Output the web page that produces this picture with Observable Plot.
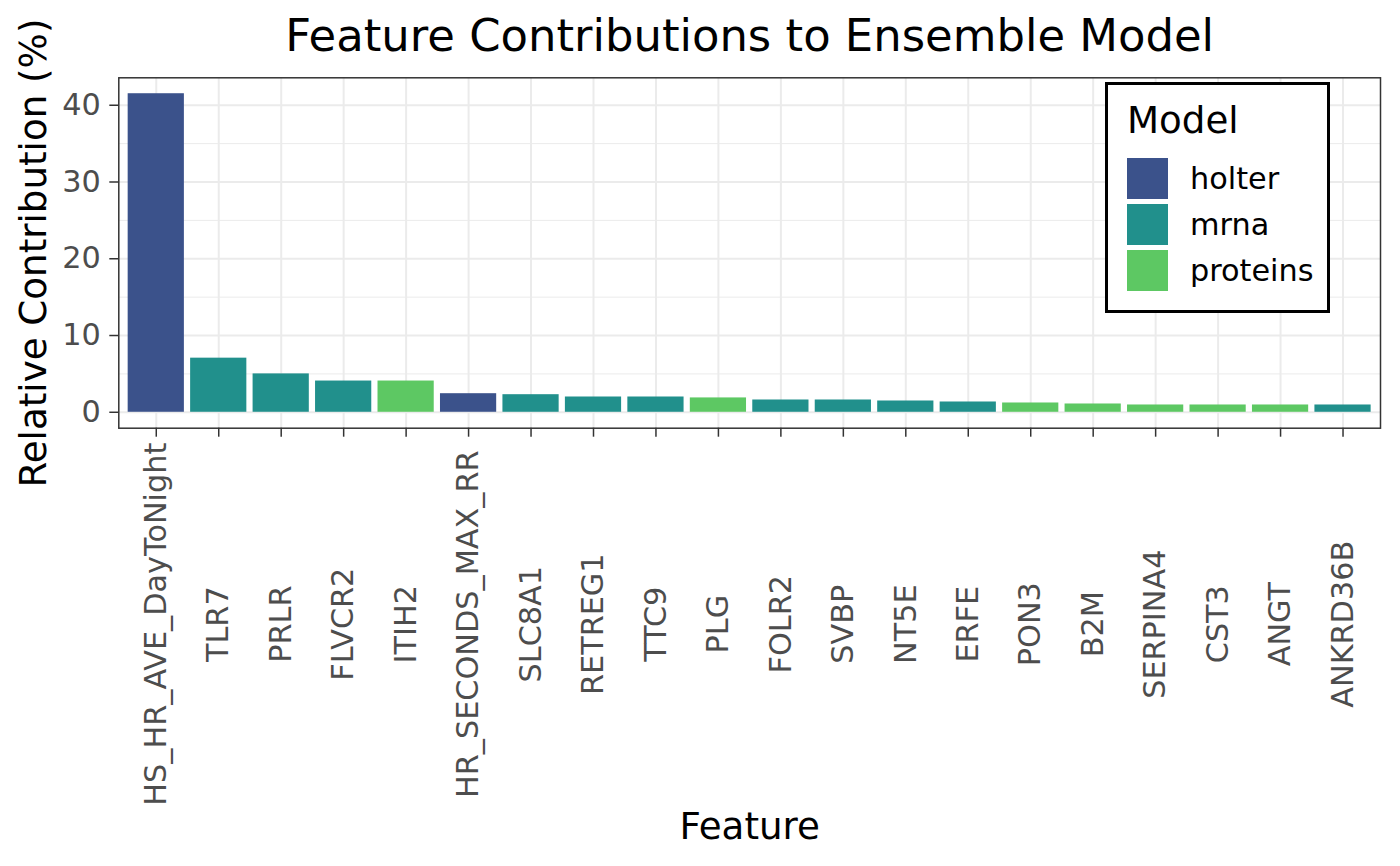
<!DOCTYPE html>
<html>
<head>
<meta charset="utf-8">
<script src="https://cdn.jsdelivr.net/npm/d3@7"></script>
<script src="https://cdn.jsdelivr.net/npm/@observablehq/plot@0.6"></script>
<style>
  html, body { margin: 0; padding: 0; background: #fff; }
  #wrap { position: relative; width: 1400px; height: 866px; font-family: "DejaVu Sans", sans-serif; }
  #legend { position: absolute; left: 1105px; top: 82px; }
</style>
</head>
<body>
<div id="wrap"><div id="chart"></div><div id="legend"></div></div>
<script>
const features = ["HS_HR_AVE_DayToNight","TLR7","PRLR","FLVCR2","ITIH2","HR_SECONDS_MAX_RR","SLC8A1","RETREG1","TTC9","PLG","FOLR2","SVBP","NT5E","ERFE","PON3","B2M","SERPINA4","CST3","ANGT","ANKRD36B"];
const values = [41.5, 7.05, 5.0, 4.07, 4.07, 2.42, 2.29, 1.99, 1.99, 1.87, 1.6, 1.6, 1.47, 1.34, 1.21, 1.08, 0.95, 0.95, 0.95, 0.95];
const models = ["holter","mrna","mrna","mrna","proteins","holter","mrna","mrna","mrna","proteins","mrna","mrna","mrna","mrna","proteins","proteins","proteins","proteins","proteins","mrna"];
const modelLevels = ["holter","mrna","proteins"];
const modelColors = ["#3B528B","#21908C","#5DC863"];
const yTicks = [0, 10, 20, 30, 40];
const yMinor = [5, 15, 25, 35];
const titleText = "Feature Contributions to Ensemble Model";
const xTitle = "Feature";
const yTitle = "Relative Contribution (%)";
const legendTitle = "Model";

const data = features.map((f, i) => ({feature: f, value: values[i], model: models[i]}));
const ymax = d3.max(values);
const pad = ymax * 0.05;

const font = "DejaVu Sans";
const tickFs = 30.3, titleFs = 44.9, axisTitleFs = 37.2;
const chart = Plot.plot({
  width: 1400,
  height: 866,
  marginLeft: 118.3,
  marginRight: 20,
  marginTop: 77.3,
  marginBottom: 438.3,
  style: {fontFamily: font, background: "#fff"},
  x: {domain: features, paddingInner: 0.1, paddingOuter: 0.15, round: false, axis: null},
  y: {domain: [-pad, ymax + pad], axis: null},
  color: {domain: modelLevels, range: modelColors},
  marks: [
    Plot.gridY(yMinor, {stroke: "#EBEBEB", strokeOpacity: 1, strokeWidth: 1}),
    Plot.gridY(yTicks, {stroke: "#EBEBEB", strokeOpacity: 1, strokeWidth: 2}),
    Plot.gridX(features, {stroke: "#EBEBEB", strokeOpacity: 1, strokeWidth: 2}),
    Plot.barY(data, {x: "feature", y: "value", fill: "model"}),
    Plot.frame({stroke: "#333333", strokeWidth: 1.5}),
    Plot.axisY(yTicks, {tickSize: 9, tickPadding: 9, fontSize: tickFs, fill: "#4D4D4D", stroke: "#333333", strokeWidth: 1.5, label: null}),
    Plot.axisX(features, {tickSize: 9, tickFormat: () => "", stroke: "#333333", strokeWidth: 1.5, label: null}),
    Plot.text(features, {x: d => d, frameAnchor: "bottom", dy: 196, rotate: -90, textAnchor: "middle", lineAnchor: "middle", fontSize: tickFs, fill: "#4D4D4D", text: d => d}),
    Plot.text([titleText], {frameAnchor: "top", textAnchor: "middle", lineAnchor: "bottom", dy: -27.3, fontSize: titleFs, fill: "#000", text: d => d}),
    Plot.text([xTitle], {frameAnchor: "bottom", textAnchor: "middle", lineAnchor: "bottom", dy: 410.6, fontSize: axisTitleFs, fill: "#000", text: d => d}),
    Plot.text([yTitle], {frameAnchor: "left", textAnchor: "middle", lineAnchor: "bottom", rotate: -90, dx: -72.6, fontSize: axisTitleFs, fill: "#000", text: d => d})
  ]
});
document.getElementById("chart").appendChild(chart);

// Legend
const lg = d3.select("#legend").append("svg")
  .attr("width", 226).attr("height", 231)
  .style("font-family", font);
lg.append("rect").attr("x", 1.5).attr("y", 1.5).attr("width", 222).attr("height", 228)
  .attr("fill", "#fff").attr("stroke", "#000").attr("stroke-width", 3);
lg.append("text").attr("x", 22).attr("y", 51.3).attr("font-size", axisTitleFs).attr("fill", "#000").text(legendTitle);
modelLevels.forEach((m, i) => {
  const y0 = 76 + i * 46;
  lg.append("rect").attr("x", 22).attr("y", y0).attr("width", 41).attr("height", 41).attr("fill", modelColors[i]);
  lg.append("text").attr("x", 85).attr("y", y0 + 20.5 + 10.5).attr("font-size", tickFs).attr("fill", "#000").text(m);
});
</script>
</body>
</html>
